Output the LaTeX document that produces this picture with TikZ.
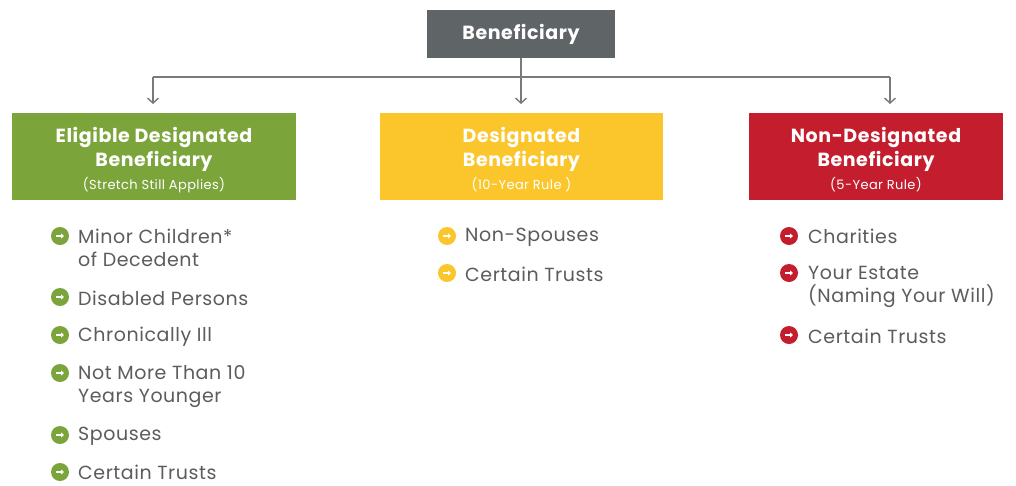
\documentclass[tikz,border=0pt]{standalone}
\usepackage{fontspec}
\setmainfont{Poppins}[LetterSpace=3]
\usetikzlibrary{arrows.meta}
\definecolor{topgray}{HTML}{5F6567}
\definecolor{egreen}{HTML}{7BA43A}
\definecolor{dyellow}{HTML}{FBC52C}
\definecolor{nred}{HTML}{C31D2E}
\definecolor{txtgray}{HTML}{5C5C5C}
\definecolor{linegray}{HTML}{7A7A7A}
\newcommand\subtxt{\fontsize{13}{15}\selectfont\mdseries}
\tikzset{
  hbox/.style={draw=none, minimum height=87pt, inner sep=0pt},
  htext/.style={inner sep=0pt, align=center, text=white, font=\bfseries\fontsize{19}{24}\selectfont},
  item/.style={anchor=west, align=left, inner sep=0pt, text=txtgray, font=\fontsize{19}{23.5}\selectfont},
  bul/.style={circle, fill=#1, minimum size=18pt, inner sep=0pt,
    path picture={\draw[white, line width=1.6pt, -{Triangle[length=3pt,width=5pt]}]
      ([xshift=-3.6pt]path picture bounding box.center) -- ([xshift=4pt]path picture bounding box.center);}},
  conn/.style={draw=linegray, line width=1.4pt},
  arr/.style={conn, -{Straight Barb[length=5pt,width=11pt,line width=1.4pt]}}
}
\begin{document}
\begin{tikzpicture}[x=1pt,y=-1pt]
\useasboundingbox[fill=white] (0,0) rectangle (1016,485);
% top
\node[fill=topgray, minimum width=188pt, minimum height=48pt, inner sep=0pt, text=white, font=\bfseries\fontsize{19}{20}\selectfont] (top) at (521,34) {\raisebox{-1.5pt}{Beneficiary}};
\coordinate (hl) at (153,77);
\coordinate (hr) at (890,77);
\coordinate (hm) at (521,77);
% boxes
\node[hbox, fill=egreen, minimum width=284pt] (eg) at (154,156.5) {};
\node[htext] (egt) at ([yshift=-3.5pt]eg.center) {Eligible Designated\\Beneficiary\\[-1pt]{\subtxt(Stretch Still Applies)}};
\node[hbox, fill=dyellow, minimum width=283pt] (dg) at (521.5,156.5) {};
\node[htext] (dgt) at ([yshift=-3.5pt]dg.center) {Designated\\Beneficiary\\[-1pt]{\subtxt(10-Year Rule )}};
\node[hbox, fill=nred, minimum width=254pt] (nd) at (876,156.5) {};
\node[htext] (ndt) at ([yshift=-3.5pt]nd.center) {Non-Designated\\Beneficiary\\[-1pt]{\subtxt(5-Year Rule)}};
% connectors
\draw[conn] (top.south) -- (hm);
\draw[conn] (hl) -- (hr);
\draw[arr] (hl) -- (hl |- 0,104);
\draw[arr] (hm) -- (hm |- 0,104);
\draw[arr] (hr) -- (hr |- 0,104);
% green items
\node[bul=egreen] (g1) at (60,236) {};
\node[item] (gt1) at (78,248) {Minor Children*\\of Decedent};
\node[bul=egreen] (g2) at (60,297) {};
\node[item] (gt2) at (78,298.5) {Disabled Persons};
\node[bul=egreen] (g3) at (60,335) {};
\node[item] (gt3) at (78,336.5) {Chronically Ill};
\node[bul=egreen] (g4) at (60,373) {};
\node[item] (gt4) at (78,386.5) {Not More Than 10\\Years Younger};
\node[bul=egreen] (g5) at (60,435) {};
\node[item] (gt5) at (78,436.5) {Spouses};
\node[bul=egreen] (g6) at (60,472) {};
\node[item] (gt6) at (78,472.5) {Certain Trusts};
% yellow items
\node[bul=dyellow] (y1) at (447,236) {};
\node[item] (yt1) at (465,237) {Non-Spouses};
\node[bul=dyellow] (y2) at (447,273) {};
\node[item] (yt2) at (465,274) {Certain Trusts};
% red items
\node[bul=nred] (r1) at (789,236) {};
\node[item] (rt1) at (808,236.5) {Charities};
\node[bul=nred] (r2) at (789,273) {};
\node[item] (rt2) at (808,287) {Your Estate\\(Naming Your Will)};
\node[bul=nred] (r3) at (789,335) {};
\node[item] (rt3) at (808,336) {Certain Trusts};
\end{tikzpicture}
\end{document}
